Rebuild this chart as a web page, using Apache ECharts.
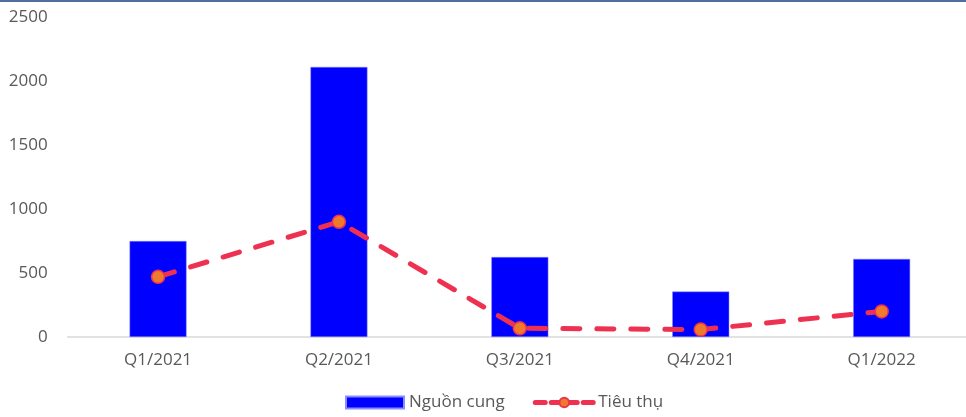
<!DOCTYPE html>
<html><head><meta charset="utf-8">
<script src="https://cdn.jsdelivr.net/npm/echarts@6/dist/echarts.min.js"></script>
<style>html,body{margin:0;padding:0;background:#fff}#c{width:966px;height:417px}</style>
</head><body><div id="c"></div>
<script>
const categories = ["Q1/2021","Q2/2021","Q3/2021","Q4/2021","Q1/2022"];
const supply = [750, 2110, 625, 355, 610];
const consumption = [470, 900, 68, 58, 200];
const yTicks = [0, 500, 1000, 1500, 2000, 2500];
const seriesNames = ["Nguồn cung", "Tiêu thụ"];

const chart = echarts.init(document.getElementById('c'));
const font = "'Open Sans', sans-serif";
chart.setOption({
  animation: false,
  graphic: [{type:'rect', left:0, top:0, shape:{width:966, height:2}, style:{fill:'#4f6f9f'}}],
  grid: {left: 67.6, top: 17, width: 904.5, height: 320, outerBoundsMode: 'none', containLabel: false},
  legend: {
    bottom: 1, left: 340, itemGap: 28, itemWidth: 58, itemHeight: 12,
    textStyle: {color:'#595959', fontSize: 17, fontFamily: font},
    data: [
      {name: seriesNames[0], icon: 'rect'},
      {name: seriesNames[1], lineStyle: {type:[10, 6], width: 5, color:'#ee3150', cap:'round'}}
    ]
  },
  xAxis: {
    type: 'category', data: categories,
    axisLine: {lineStyle: {color:'#d9d9d9', width: 1.5}},
    axisTick: {show:false},
    axisLabel: {color:'#595959', fontSize: 17, fontFamily: font, margin: 15}
  },
  yAxis: {
    type: 'value', min: yTicks[0], max: yTicks[yTicks.length-1], interval: 500,
    splitLine: {show:false}, axisLine:{show:false}, axisTick:{show:false},
    axisLabel: {color:'#595959', fontSize: 17, fontFamily: font, margin: 20, formatter: v => String(v)}
  },
  series: [
    {name: seriesNames[0], type:'bar', data: supply, barWidth: '31.5%',
     itemStyle: {color:'#0000ff', borderColor:'#8b8bff', borderWidth: 0.5}},
    {name: seriesNames[1], type:'line', data: consumption, symbol:'circle', symbolSize: 13,
     lineStyle: {color:'#ee3150', width: 5, type:[17, 17], cap:'round'},
     itemStyle: {color:'#f07a2c', borderColor:'#ee3150', borderWidth: 1.5}}
  ]
});
</script></body></html>
